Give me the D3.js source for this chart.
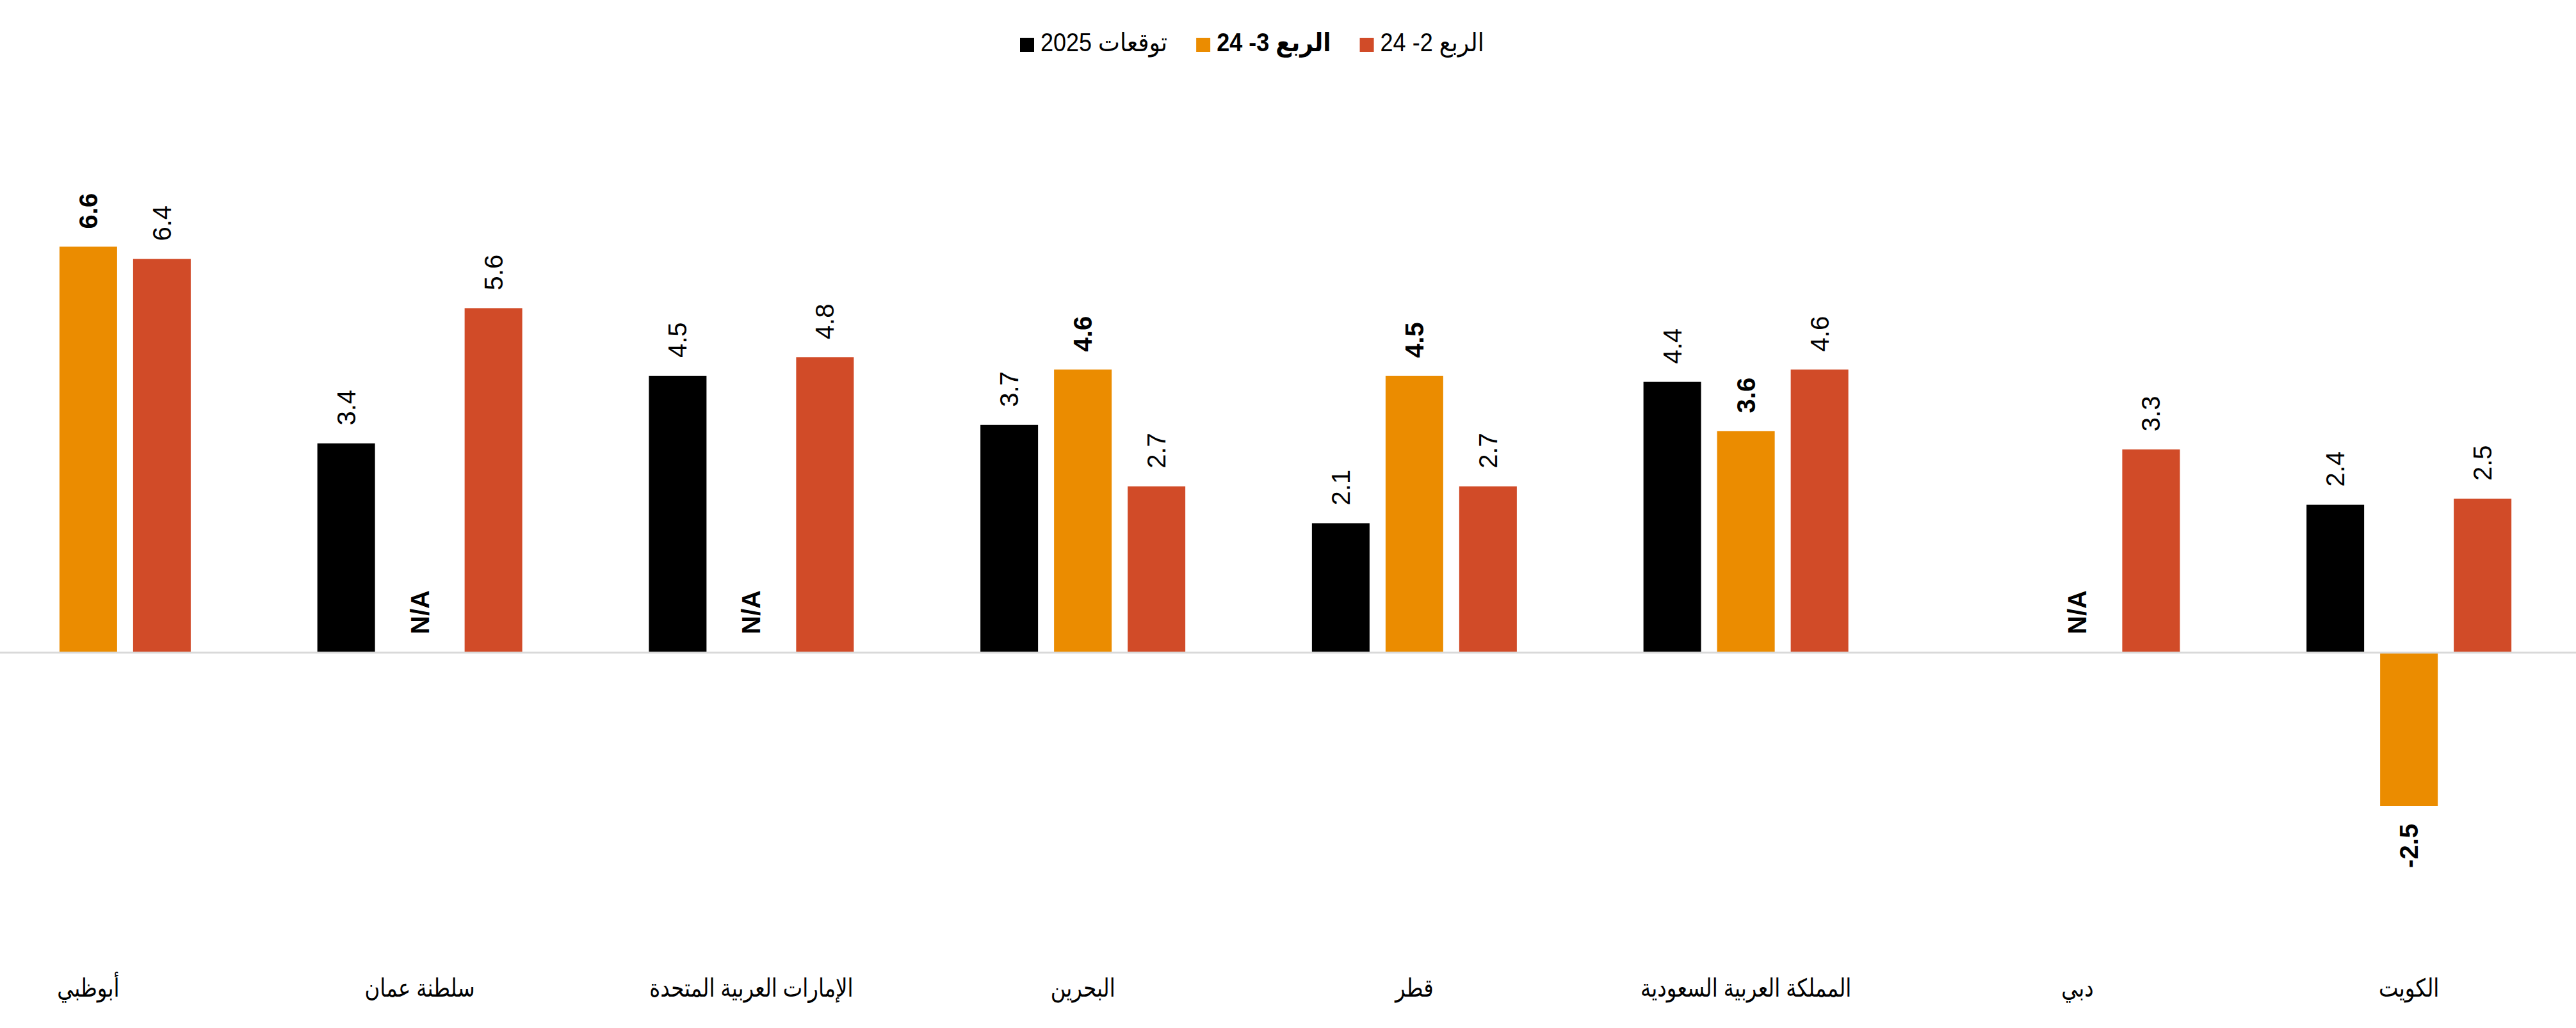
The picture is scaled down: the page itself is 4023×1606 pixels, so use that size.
<!DOCTYPE html>
<html lang="ar">
<head>
<meta charset="utf-8">
<script src="https://cdn.jsdelivr.net/npm/d3@7"></script>
<style>
  html, body { margin: 0; padding: 0; background: #ffffff; }
  svg { display: block; }
  text { font-family: "Liberation Sans", Arial, "DejaVu Sans", sans-serif; }
</style>
</head>
<body>
<svg id="chart" width="4023" height="1606"></svg>
<script>
// ---- data ----
const categories = ["أبوظبي", "سلطنة عمان", "الإمارات العربية المتحدة", "البحرين", "قطر", "المملكة العربية السعودية", "دبي", "الكويت"];
const seriesNames = ["توقعات 2025", "الربع 3- 24", "الربع 2- 24"];
const forecast2025 = [null, 3.4, 4.5, 3.7, 2.1, 4.4, null, 2.4];
const q3_24 = [6.6, "N/A", "N/A", 4.6, 4.5, 3.6, "N/A", -2.5];
const q2_24 = [6.4, 5.6, 4.8, 2.7, 2.7, 4.6, 3.3, 2.5];
const seriesColors = ["#000000", "#EB8C00", "#D14B28"];
const seriesBold = [false, true, false];

const W = 4023, H = 1606;
const svg = d3.select("#chart");
svg.append("rect").attr("width", W).attr("height", H).attr("fill", "#ffffff");

const seriesValues = [forecast2025, q3_24, q2_24];
const keys = d3.range(seriesNames.length);

const x0 = d3.scaleBand().domain(categories).range([-121, 4021]).padding(0);
const bw = x0.bandwidth();
const x1 = d3.scaleBand().domain(keys).range([bw / 2 - 160, bw / 2 + 160]).paddingInner(25 / 115);
const y = d3.scaleLinear().domain([-4, 8]).range([1019 + 4 * 96, 1019 - 8 * 96]);

const fmt = v => v.toFixed(1);
const labelGap = 28;

const rows = [];
categories.forEach((c, i) => {
  keys.forEach(k => rows.push({ cat: c, k, v: seriesValues[k][i] }));
});

// bars
const barRows = rows.filter(d => typeof d.v === "number");
svg.append("g").selectAll("rect").data(barRows).join("rect")
  .attr("x", d => x0(d.cat) + x1(d.k))
  .attr("width", x1.bandwidth())
  .attr("y", d => y(Math.max(0, d.v)))
  .attr("height", d => Math.abs(y(d.v) - y(0)))
  .attr("fill", d => seriesColors[d.k]);

// zero line
svg.append("line")
  .attr("x1", 0).attr("x2", W)
  .attr("y1", y(0) + 0.5).attr("y2", y(0) + 0.5)
  .attr("stroke", "#D9D9D9").attr("stroke-width", 3);

// value labels (rotated)
const labelRows = rows.filter(d => d.v !== null);
svg.append("g").selectAll("text").data(labelRows).join("text")
  .attr("transform", d => {
    const cx = x0(d.cat) + x1(d.k) + x1.bandwidth() / 2;
    let yy;
    if (typeof d.v !== "number") yy = y(0) - labelGap;
    else if (d.v >= 0) yy = y(d.v) - labelGap;
    else yy = y(d.v) + labelGap;
    return `translate(${cx},${yy}) rotate(-90)`;
  })
  .attr("dy", "0.35em")
  .attr("text-anchor", d => (typeof d.v === "number" && d.v < 0) ? "end" : "start")
  .attr("font-size", 40)
  .attr("font-weight", d => (typeof d.v !== "number" || seriesBold[d.k]) ? "bold" : "normal")
  .attr("fill", "#000")
  .text(d => typeof d.v === "number" ? fmt(d.v) : d.v);

// category labels
const xAxis = d3.axisBottom(x0).tickSize(0).tickPadding(0);
const gx = svg.append("g").attr("transform", "translate(0,1522)").call(xAxis);
gx.select(".domain").remove();
gx.selectAll("text")
  .attr("font-size", 39)
  .attr("font-family", "\"Liberation Sans\", Arial, \"DejaVu Sans\", sans-serif")
  .attr("fill", "#000")
  .attr("direction", "rtl")
  .attr("transform", "scale(0.83,1)")
  .attr("dy", "0.9em");

// legend (left to right visually: forecast, Q3, Q2)
const legend = svg.append("g");
let lx = 1593;
keys.forEach(k => {
  legend.append("rect")
    .attr("x", lx).attr("y", 59).attr("width", 22).attr("height", 22)
    .attr("fill", seriesColors[k]);
  const t = legend.append("text")
    .attr("y", 80)
    .attr("font-size", 40)
    .attr("font-weight", seriesBold[k] ? "bold" : "normal")
    .attr("direction", "rtl")
    .attr("text-anchor", "middle")
    .attr("fill", "#000")
    .text(seriesNames[k]);
  const w0 = t.node().getComputedTextLength();
  const sx = 0.9;
  const w = w0 * sx;
  const cx = lx + 32 + w / 2;
  t.attr("x", 0).attr("transform", `translate(${cx},0) scale(${sx},1)`);
  lx = lx + 32 + w + 45;
});
</script>
</body>
</html>
